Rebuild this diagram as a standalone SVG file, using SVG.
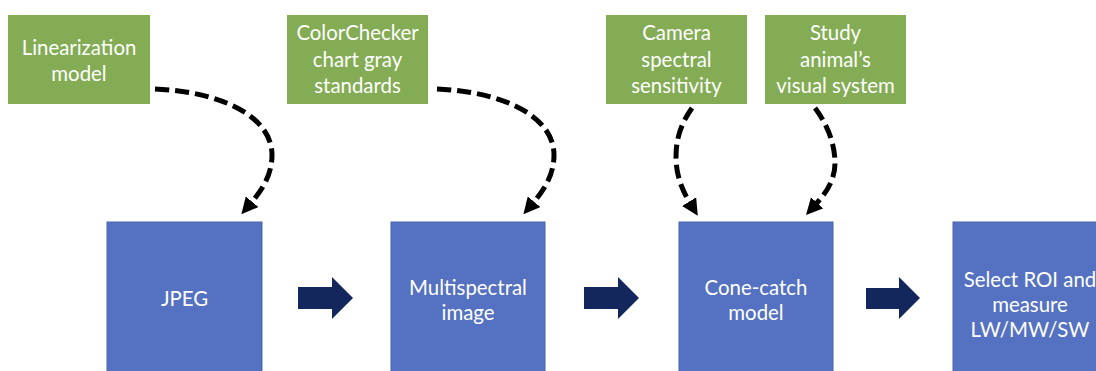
<svg xmlns="http://www.w3.org/2000/svg" width="1096" height="371" viewBox="0 0 1096 371">
<style>
.g{fill:#83AC54}
.b{fill:#5571C1;stroke:#4A64B0;stroke-width:1}
.t{font-family:Lato,"Open Sans",sans-serif;font-size:20.4px;fill:#fff;text-anchor:middle}
.d{fill:none;stroke:#000;stroke-width:5;stroke-dasharray:14 6;marker-end:url(#ah)}
.a{fill:#13275C}
</style>
<defs>
<marker id="ah" viewBox="0 0 10 10" refX="1" refY="5" markerWidth="3.3" markerHeight="3.3" orient="auto">
<path d="M0,0 L10,5 L0,10 z" fill="#000"/>
</marker>
</defs>
<rect width="1096" height="371" fill="#fff"/>
<g id="lin">
<rect class="g" x="8" y="15" width="142" height="89"/>
<text class="t" x="79" y="55">Linearization</text>
<text class="t" x="79" y="81">model</text>
</g>
<g id="cc">
<rect class="g" x="287" y="15" width="141" height="89"/>
<text class="t" x="357.5" y="40">ColorChecker</text>
<text class="t" x="357.5" y="66.5">chart gray</text>
<text class="t" x="357.5" y="93">standards</text>
</g>
<g id="cam">
<rect class="g" x="606" y="15" width="141" height="89"/>
<text class="t" x="676.5" y="40">Camera</text>
<text class="t" x="676.5" y="66.5">spectral</text>
<text class="t" x="676.5" y="93">sensitivity</text>
</g>
<g id="study">
<rect class="g" x="765" y="15" width="141" height="89"/>
<text class="t" x="835.5" y="40">Study</text>
<text class="t" x="835.5" y="66.5">animal’s</text>
<text class="t" x="835.5" y="93">visual system</text>
</g>
<g id="jpeg">
<rect class="b" x="107" y="222" width="155" height="160"/>
<text class="t" x="184.5" y="306">JPEG</text>
</g>
<g id="ms">
<rect class="b" x="391" y="222" width="154" height="160"/>
<text class="t" x="468" y="295">Multispectral</text>
<text class="t" x="468" y="320">image</text>
</g>
<g id="cone">
<rect class="b" x="679" y="222" width="154" height="160"/>
<text class="t" x="756" y="295">Cone-catch</text>
<text class="t" x="756" y="320">model</text>
</g>
<g id="roi">
<rect class="b" x="953" y="222" width="154" height="160"/>
<text class="t" x="1030" y="287">Select ROI and</text>
<text class="t" x="1030" y="312">measure</text>
<text class="t" x="1030" y="337">LW/MW/SW</text>
</g>
<g id="connectors">
<path class="d" d="M155,89 C225,92 272,118 272,155 C272,175 262,190 251,203"/>
<path class="d" d="M437,89 C507,92 554,118 554,155 C554,175 544,190 533,203"/>
<path class="d" d="M692,108 C680,125 676,140 676,157 C676,175 682,190 690,203"/>
<path class="d" d="M815,108 C828,125 835,145 835,163 C835,180 826,193 816,204"/>
<path class="a" d="M298,287 H332 V277 L353,298 L332,319 V309 H298 Z"/>
<path class="a" d="M584,287 H618 V277 L639,298 L618,319 V309 H584 Z"/>
<path class="a" d="M866,288 H899 V277 L920,298 L899,319 V309 H866 Z"/>
</g>
</svg>
